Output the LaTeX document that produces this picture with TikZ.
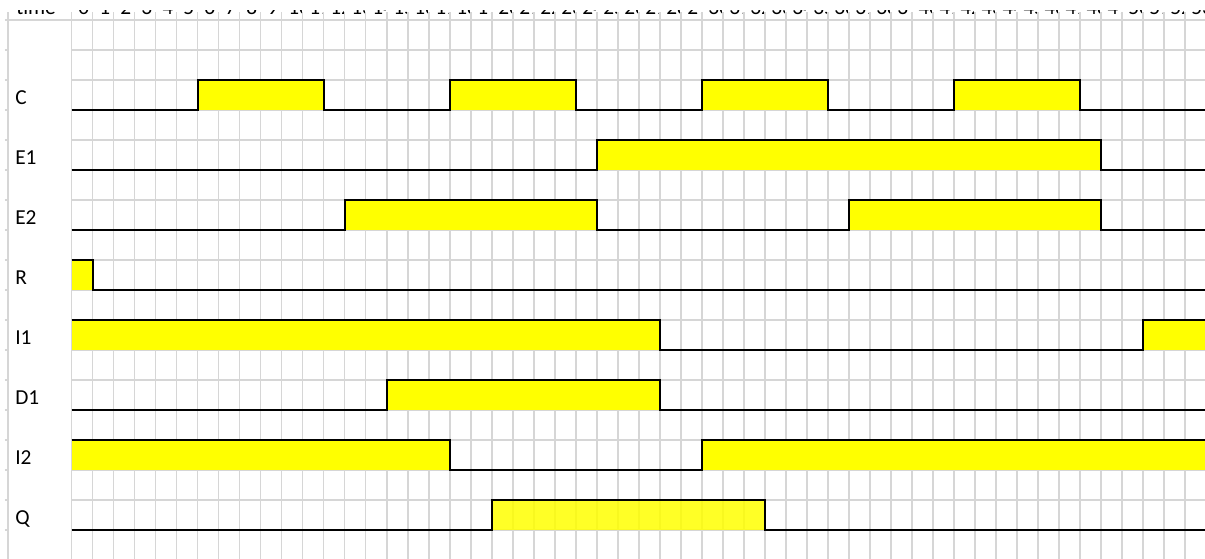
\documentclass[tikz,border=0pt]{standalone}
\usepackage{fontspec}
\setmainfont{Carlito}
\definecolor{cellgrid}{RGB}{214,214,214}
\definecolor{hilevel}{RGB}{255,255,0}
\usetikzlibrary{positioning}

\begin{document}
\begin{tikzpicture}[x=15.75pt, y=-22.5pt,
    gridline/.style={cellgrid, line width=1.2pt},
    wave/.style={black, line width=1.4pt, line join=miter},
    hi/.style={fill=hilevel},
    lbl/.style={font=\fontsize{16}{19}\selectfont, anchor=base west, inner sep=0pt}]
  \useasboundingbox (-3.414,-0.667) rectangle (53.967,17.933);
  % grid of the sheet
  \foreach \k in {0,...,53}
    \draw[gridline] (\k,-0.267) -- (\k,18);
  \draw[gridline] (-3.033,-0.267) -- (-3.033,18);
  \draw[gridline] (-3.18,0) -- (54,0);
  \foreach \j in {1,...,17} {
    \draw[gridline] (-3.18,\j) -- (-3.033,\j);
    \draw[gridline] (0,\j) -- (54,\j);
  }
  % header row, cut at the top
  \begin{scope}
    \clip (-3.414,-0.333) rectangle (54,-0.067);
    \node[lbl] (time) at (-2.65,-0.2) {time};
    \foreach \k in {0,...,53} {
      \begin{scope}
        \clip (\k+0.1,-0.4) rectangle (\k+0.95,0);
        \node[lbl] (t\k) at (\k+0.3,-0.2) {\k};
      \end{scope}
    }
  \end{scope}
  % signal names
  \node[lbl] (C) at (-2.7,2.8) {C};
  \node[lbl] (E1) at (-2.7,4.8) {E1};
  \node[lbl] (E2) at (-2.7,6.8) {E2};
  \node[lbl] (R) at (-2.7,8.8) {R};
  \node[lbl] (I1) at (-2.7,10.8) {I1};
  \node[lbl] (D1) at (-2.7,12.8) {D1};
  \node[lbl] (I2) at (-2.7,14.8) {I2};
  \node[lbl] (Q) at (-2.7,16.8) {Q};
  % high levels
  \foreach \a/\b in {6/12,18/24,30/36,42/48}
    \fill[hi] (\a,2) rectangle (\b,3);
  \fill[hi] (25,4) rectangle (49,5);
  \fill[hi] (13,6) rectangle (25,7);
  \fill[hi] (37,6) rectangle (49,7);
  \fill[hi] (0,8) rectangle (1,9);
  \fill[hi] (0,10) rectangle (28,11);
  \fill[hi] (51,10) rectangle (54,11);
  \fill[hi] (15,12) rectangle (28,13);
  \fill[hi] (0,14) rectangle (18,15);
  \fill[hi] (30,14) rectangle (54,15);
  \fill[hi, fill opacity=0.85] (20,16) rectangle (33,17);
  % waveforms
  \draw[wave] (0,3) -- (6,3) -- (6,2) -- (12,2) -- (12,3) -- (18,3) -- (18,2) -- (24,2) -- (24,3)
    -- (30,3) -- (30,2) -- (36,2) -- (36,3) -- (42,3) -- (42,2) -- (48,2) -- (48,3) -- (54,3);
  \draw[wave] (0,5) -- (25,5) -- (25,4) -- (49,4) -- (49,5) -- (54,5);
  \draw[wave] (0,7) -- (13,7) -- (13,6) -- (25,6) -- (25,7) -- (37,7) -- (37,6) -- (49,6) -- (49,7) -- (54,7);
  \draw[wave] (0,8) -- (1,8) -- (1,9) -- (54,9);
  \draw[wave] (0,10) -- (28,10) -- (28,11) -- (51,11) -- (51,10) -- (54,10);
  \draw[wave] (0,13) -- (15,13) -- (15,12) -- (28,12) -- (28,13) -- (54,13);
  \draw[wave] (0,14) -- (18,14) -- (18,15) -- (30,15) -- (30,14) -- (54,14);
  \draw[wave] (0,17) -- (20,17) -- (20,16) -- (33,16) -- (33,17) -- (54,17);
\end{tikzpicture}
\end{document}
